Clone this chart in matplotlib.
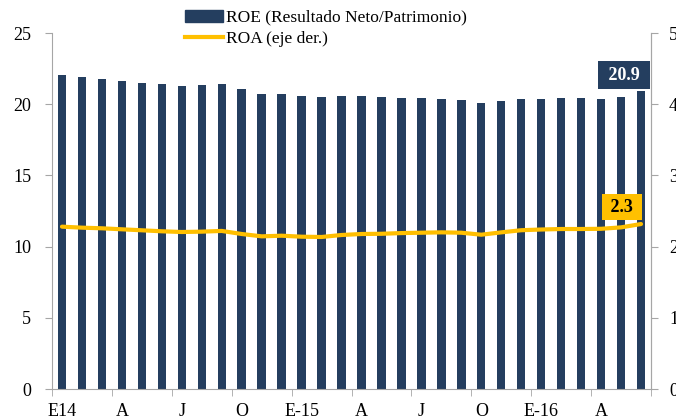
import numpy as np
import matplotlib.pyplot as plt
from matplotlib.lines import Line2D
from matplotlib.patches import Patch

# monthly data, Jan 2014 - Jun 2016
roe = [22.05, 21.9, 21.8, 21.6, 21.5, 21.4, 21.3, 21.35, 21.4, 21.1,
       20.7, 20.7, 20.6, 20.5, 20.6, 20.6, 20.5, 20.45, 20.45, 20.35,
       20.3, 20.05, 20.2, 20.35, 20.4, 20.45, 20.45, 20.4, 20.5, 20.9]
roa = [2.28, 2.266, 2.257, 2.243, 2.229, 2.215, 2.205, 2.21, 2.22, 2.177,
       2.144, 2.153, 2.139, 2.135, 2.163, 2.177, 2.18, 2.19, 2.195, 2.2,
       2.195, 2.167, 2.2, 2.23, 2.24, 2.247, 2.247, 2.25, 2.27, 2.317]
xlabels = ['E14', 'A', 'J', 'O', 'E-15', 'A', 'J', 'O', 'E-16', 'A']

navy = '#243E5F'
gold = '#FFC000'
grey = '#A6A6A6'

plt.rcParams['font.family'] = ['Liberation Serif', 'DejaVu Serif']

fig = plt.figure(figsize=(6.76, 4.2), dpi=100)
ax = fig.add_axes([52 / 676, 1 - 389 / 420, 599 / 676, 356 / 420])
ax2 = ax.twinx()

x = np.arange(len(roe))
ax.bar(x, roe, width=0.42, color=navy, zorder=2)
ax2.plot(x, roa, color=gold, lw=3, solid_capstyle='round', zorder=3)

ax.set_xlim(-0.5, len(roe) - 0.5)
ax.set_ylim(0, 25)
ax2.set_ylim(0, 5)
ax.set_yticks(range(0, 26, 5))
ax2.set_yticks(range(0, 6))

ax.set_xticks(np.arange(0, len(roe), 3))
ax.set_xticklabels(xlabels)
ax.set_xticks(np.arange(-0.5, len(roe), 3), minor=True)
ax.tick_params(axis='x', which='major', length=0, pad=10, labelsize=13)
ax.tick_params(axis='x', which='minor', length=5, color=grey, direction='out')
ax.tick_params(axis='y', length=5, color=grey, pad=10, labelsize=13)
ax2.tick_params(axis='y', length=5, color=grey, pad=8, labelsize=13)

for a in (ax, ax2):
    a.spines['top'].set_visible(False)
    for s in ('left', 'right', 'bottom'):
        a.spines[s].set_color(grey)
ax2.spines['left'].set_visible(False)
ax2.spines['bottom'].set_visible(False)

# value labels
ax.annotate(f' {roe[-1]:.1f} ', (x[-1], roe[-1]), xytext=(-17, 16),
            textcoords='offset pixels', ha='center', va='center',
            fontsize=13, fontweight='bold', color='white',
            bbox=dict(boxstyle='square,pad=0.3', fc=navy, ec='none'))
ax2.annotate(f' {roa[-1]:.1f} ', (x[-1], roa[-1]), xytext=(-19, 17),
             textcoords='offset pixels', ha='center', va='center',
             fontsize=13, fontweight='bold', color='black',
             bbox=dict(boxstyle='square,pad=0.25', fc=gold, ec='none'))

handles = [Patch(color=navy), Line2D([], [], color=gold, lw=3)]
fig.legend(handles, ['ROE (Resultado Neto/Patrimonio)', 'ROA (eje der.)'],
           loc='upper left', bbox_to_anchor=(169 / 676, 1 + 6 / 420),
           frameon=False, fontsize=12.5, handlelength=2.2,
           handletextpad=0.2, labelspacing=0.3)

fig.savefig('out.png', dpi=100)
